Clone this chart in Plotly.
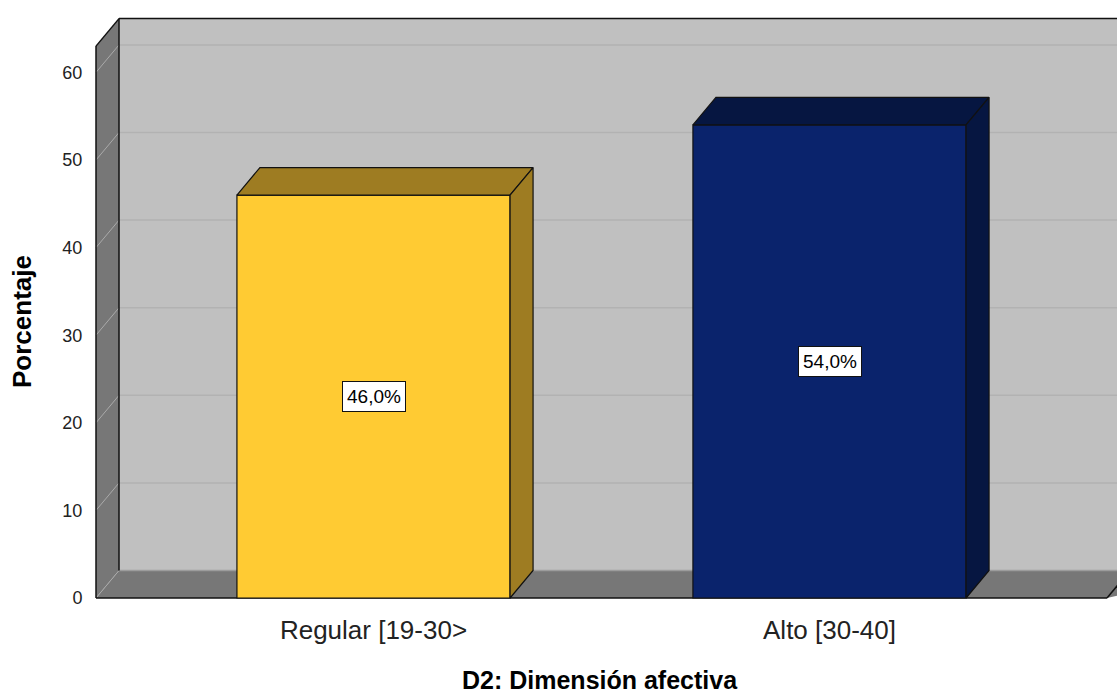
import plotly.graph_objects as go

# ---------------- data ----------------
categories = ["Regular [19-30>", "Alto [30-40]"]
percentages = [46.0, 54.0]
value_labels = ["46,0%", "54,0%"]
y_ticks = [0, 10, 20, 30, 40, 50, 60]
front_colors = ["#FFCB33", "#0A236C"]
shade_colors = ["#9E7C22", "#061641"]
x_title = "D2: Dimensión afectiva"
y_title = "Porcentaje"

# ---------------- geometry ----------------
W, H = 1117, 698
ML, MR, MT, MB = 92, 0, 10, 95
PX_X = 456.0      # pixels per category step
PX_Y = 8.76       # pixels per percent
X0PX = 373.5      # pixel of first category centre
Y0PX = 598.0      # pixel of value 0
xr = [(ML - X0PX) / PX_X, (W - MR - X0PX) / PX_X]
yr = [(Y0PX - (H - MB)) / PX_Y, (Y0PX - MT) / PX_Y]
PW, PH = W - ML - MR, H - MT - MB

half = 0.2995                # half bar width (category units)
DX = 23.0 / PX_X             # depth offset (x)
DY = 27.5 / PX_Y             # depth offset (y)
wall_top = 63.0
left = -(X0PX - 96.0) / PX_X
right = (len(categories) - 1) - left
far_right = xr[1] + 0.2

fig = go.Figure()
shapes = []


def path_of(xs, ys):
    s = "M %f,%f " % (xs[0], ys[0])
    for x, y in zip(xs[1:], ys[1:]):
        s += "L %f,%f " % (x, y)
    return s + "Z"


def wall(xs, ys, fill):
    shapes.append(dict(type="path", path=path_of(xs, ys), xref="x", yref="y",
                       fillcolor=fill, line=dict(width=0), layer="below"))


def wline(x0, y0, x1, y1, color, lw):
    shapes.append(dict(type="line", x0=x0, y0=y0, x1=x1, y1=y1, xref="x",
                       yref="y", line=dict(color=color, width=lw), layer="below"))


# back wall, left wall, floor
wall([left + DX, far_right, far_right, left + DX],
     [DY, DY, wall_top + DY, wall_top + DY], "#C0C0C0")
wall([left, left, left + DX, left + DX],
     [0, wall_top, wall_top + DY, DY], "#777777")
wall([left, left + DX, far_right + DX, right],
     [0, DY, DY, 0], "#777777")

# gridlines on back wall and left wall
for t in y_ticks:
    wline(left + DX, t + DY, far_right, t + DY,
          "#9C9C9C" if t == 0 else "#B2B2B2", 1.5)
    wline(left, t, left + DX, t + DY, "#AAAAAA", 1)

# wall outlines
wline(left, 0, left, wall_top, "#111111", 1.5)
wline(left, wall_top, left + DX, wall_top + DY, "#111111", 1.5)
wline(left + DX, wall_top + DY, far_right, wall_top + DY, "#111111", 1.5)
wline(left + DX, DY, left + DX, wall_top + DY, "#111111", 1.5)
wline(left, 0, right, 0, "#111111", 1.5)
wline(right, 0, right + DX, DY, "#111111", 1.5)

# bars (front faces)
fig.add_trace(go.Bar(x=list(range(len(categories))), y=percentages,
                     width=2 * half,
                     marker=dict(color=front_colors,
                                 line=dict(color="#111111", width=1.2)),
                     hoverinfo="skip", showlegend=False))

# 3D top and side faces
for i, v in enumerate(percentages):
    x0, x1 = i - half, i + half
    for xs, ys in (([x0, x0 + DX, x1 + DX, x1], [v, v + DY, v + DY, v]),
                   ([x1, x1 + DX, x1 + DX, x1], [0, DY, v + DY, v])):
        fig.add_trace(go.Scatter(x=xs + [xs[0]], y=ys + [ys[0]], mode="lines",
                                 fill="toself", fillcolor=shade_colors[i],
                                 line=dict(color="#111111", width=1.2),
                                 hoverinfo="skip", showlegend=False))

# value labels
for i, v in enumerate(percentages):
    fig.add_annotation(x=i, y=v / 2, text=value_labels[i], showarrow=False,
                       font=dict(size=19, color="#000000"),
                       bgcolor="#FFFFFF", bordercolor="#111111", borderwidth=1,
                       borderpad=4)

# axis titles
fig.add_annotation(xref="paper", yref="paper", x=(600 - ML) / PW,
                   y=-(680 - MT - PH) / PH, text="<b>" + x_title + "</b>",
                   showarrow=False, font=dict(size=25, color="#000000"),
                   xanchor="center", yanchor="middle")
fig.add_annotation(xref="paper", yref="paper", x=-(ML - 22) / PW,
                   y=1 - (322 - MT) / PH, text="<b>" + y_title + "</b>",
                   textangle=-90, showarrow=False,
                   font=dict(size=26, color="#000000"),
                   xanchor="center", yanchor="middle")

fig.update_layout(
    width=W, height=H,
    margin=dict(l=ML, r=MR, t=MT, b=MB),
    paper_bgcolor="#FFFFFF", plot_bgcolor="#FFFFFF",
    font=dict(family="Liberation Sans, Arial", color="#000000"),
    shapes=shapes,
    xaxis=dict(range=xr, tickvals=list(range(len(categories))),
               ticktext=categories, showgrid=False, zeroline=False,
               showline=False, ticks="outside", ticklen=4,
               tickcolor="rgba(0,0,0,0)",
               tickfont=dict(size=26, color="#222222"),
               fixedrange=True),
    yaxis=dict(range=yr, tickvals=y_ticks, showgrid=False, zeroline=False,
               showline=False, ticks="outside", ticklen=5,
               tickcolor="rgba(0,0,0,0)",
               tickfont=dict(size=18, color="#222222"),
               fixedrange=True),
)

fig.write_html("out.html", config={"displayModeBar": False},
               post_script="document.body.style.margin='0';")
